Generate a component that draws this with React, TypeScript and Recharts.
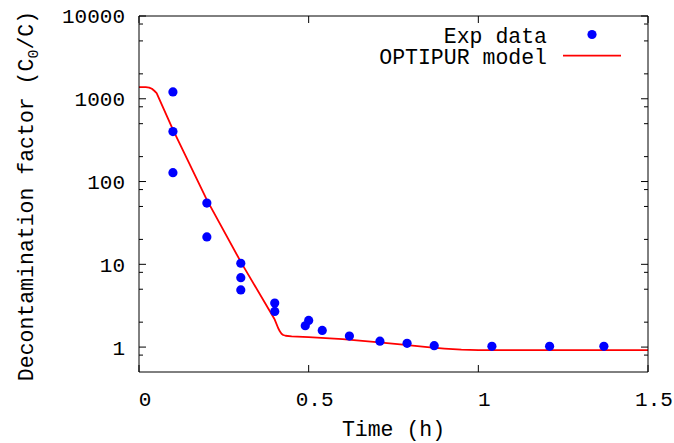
import React from 'react';
import { ComposedChart, Line, Scatter, XAxis, YAxis, Legend } from 'recharts';

// Experimental data (time in h, decontamination factor)
const expTime = [0.1, 0.1, 0.1, 0.2, 0.2, 0.3, 0.3, 0.3, 0.4, 0.4, 0.49, 0.5, 0.54, 0.62, 0.71, 0.79, 0.87, 1.04, 1.21, 1.37];
const expFactor = [1210, 401, 128, 55, 21.4, 10.3, 6.9, 4.9, 3.4, 2.7, 1.81, 2.1, 1.59, 1.36, 1.18, 1.11, 1.04, 1.02, 1.02, 1.02];

// OPTIPUR model curve
const modelTime = [0, 0.02, 0.03, 0.038, 0.045, 0.052, 0.1, 0.2, 0.3, 0.4, 0.41, 0.415, 0.42, 0.425, 0.432, 0.45, 0.5, 0.6, 0.7, 0.77, 0.85, 0.9, 0.95, 1.0, 1.5];
const modelFactor = [1380, 1380, 1365, 1320, 1250, 1170, 425, 60, 10.7, 2.15, 1.7, 1.55, 1.45, 1.4, 1.37, 1.35, 1.32, 1.25, 1.15, 1.08, 1.0, 0.96, 0.93, 0.92, 0.92];

const xTicks = [0, 0.5, 1, 1.5];
const xDomain = [0, 1.5];
const yMajorTicks = [1, 10, 100, 1000, 10000];
const yMinorTicks = [0.8, 2, 5, 8, 20, 50, 80, 200, 500, 800, 2000, 5000, 8000];
const yDomain = [0.5, 10000];
const seriesNames = ['Exp data', 'OPTIPUR model'];
const xTitle = 'Time (h)';

const expData = expTime.map((t, i) => ({ t, v: expFactor[i] }));
const modelData = modelTime.map((t, i) => ({ t, v: modelFactor[i] }));

const W = 674;
const H = 443;
const FONT = '"Liberation Mono", "DejaVu Sans Mono", monospace';
const FS = 21;
const FS_T = 21.5;
const BLUE = '#0000ff';
const RED = '#ff0000';
const THIN = 0.01;

const Blank = () => <g />;

const Dot = (props: any) => {
  const { cx, cy } = props;
  if (cx == null || cy == null) return <g />;
  return <circle cx={cx} cy={cy} r={4.6} fill={BLUE} />;
};

const XLabel = (props: any) => {
  const vb = props.viewBox || {};
  return (
    <text x={vb.x + vb.width / 2} y={vb.y + 64} textAnchor="middle" fontFamily={FONT} fontSize={FS_T} fill="#000">
      {xTitle}
    </text>
  );
};

const YLabel = (props: any) => {
  const vb = props.viewBox || {};
  const x = vb.x + 33;
  const cy = vb.y + vb.height / 2 + 2;
  return (
    <text
      x={x}
      y={cy}
      transform={`rotate(-90, ${x}, ${cy})`}
      textAnchor="middle"
      fontFamily={FONT}
      fontSize={FS_T}
      fill="#000"
    >
      Decontamination factor (C<tspan dy={5} fontSize={15}>0</tspan>
      <tspan dy={-5}>/C)</tspan>
    </text>
  );
};

const LegendContent = (props: any) => {
  const payload = [...(props.payload || [])].sort(
    (a: any, b: any) => seriesNames.indexOf(a.value) - seriesNames.indexOf(b.value)
  );
  return (
    <svg width={W} height={80} style={{ display: 'block' }}>
      {payload.map((entry: any, i: number) => {
        const y = 35 + i * 21.7;
        return (
          <g key={entry.value}>
            <text x={547} y={y} dy="0.35em" textAnchor="end" fontFamily={FONT} fontSize={FS_T} fill="#000">
              {entry.value}
            </text>
            {entry.type === 'circle' ? (
              <circle cx={592} cy={y - 0.5} r={4.6} fill={entry.color} />
            ) : (
              <line x1={563} x2={621} y1={y - 1} y2={y - 1} stroke={entry.color} strokeWidth={1.8} />
            )}
          </g>
        );
      })}
    </svg>
  );
};

const axisStroke = { stroke: '#000', strokeWidth: 1 };
const tickFont = { fill: '#000', fontSize: FS, fontFamily: FONT };
const xTickFont = { fill: '#000', fontSize: FS, fontFamily: FONT, dx: 6 };

export default function App() {
  return (
    <div style={{ position: 'absolute', left: 0, top: 0, width: W, height: H, background: '#fff' }}>
      <ComposedChart width={W} height={H} margin={{ top: 16, right: 26, bottom: 0, left: 0 }}>
        {/* main bottom axis: border + labels */}
        <XAxis
          xAxisId="x"
          type="number"
          dataKey="t"
          domain={xDomain}
          ticks={xTicks}
          interval={0}
          allowDataOverflow
          height={71}
          tickSize={0}
          tickMargin={19}
          tickLine={false}
          axisLine={axisStroke}
          tick={xTickFont}
          tickFormatter={(v: number) => String(v)}
          label={{ content: XLabel }}
        />
        {/* inward ticks bottom */}
        <XAxis
          xAxisId="xb"
          type="number"
          dataKey="t"
          domain={xDomain}
          ticks={xTicks}
          interval={0}
          allowDataOverflow
          orientation="bottom"
          mirror
          height={THIN}
          tickSize={7}
          axisLine={false}
          tickLine={axisStroke}
          tick={Blank}
        />
        {/* top border + inward ticks */}
        <XAxis
          xAxisId="xt"
          type="number"
          dataKey="t"
          domain={xDomain}
          ticks={xTicks}
          interval={0}
          allowDataOverflow
          orientation="top"
          mirror
          height={THIN}
          tickSize={7}
          axisLine={axisStroke}
          tickLine={axisStroke}
          tick={Blank}
        />
        {/* main left axis: border + labels */}
        <YAxis
          yAxisId="y"
          type="number"
          scale="log"
          domain={yDomain}
          ticks={yMajorTicks}
          interval={0}
          allowDataOverflow
          width={139}
          tickSize={0}
          tickMargin={14}
          tickLine={false}
          axisLine={axisStroke}
          tick={tickFont}
          tickFormatter={(v: number) => String(v)}
          label={{ content: YLabel }}
        />
        <YAxis
          yAxisId="ylMaj"
          type="number"
          scale="log"
          domain={yDomain}
          ticks={yMajorTicks}
          interval={0}
          allowDataOverflow
          orientation="left"
          mirror
          width={THIN}
          tickSize={7}
          axisLine={false}
          tickLine={axisStroke}
          tick={Blank}
        />
        <YAxis
          yAxisId="ylMin"
          type="number"
          scale="log"
          domain={yDomain}
          ticks={yMinorTicks}
          interval={0}
          allowDataOverflow
          orientation="left"
          mirror
          width={THIN}
          tickSize={4}
          axisLine={false}
          tickLine={axisStroke}
          tick={Blank}
        />
        <YAxis
          yAxisId="yrMaj"
          type="number"
          scale="log"
          domain={yDomain}
          ticks={yMajorTicks}
          interval={0}
          allowDataOverflow
          orientation="right"
          mirror
          width={THIN}
          tickSize={7}
          axisLine={axisStroke}
          tickLine={axisStroke}
          tick={Blank}
        />
        <YAxis
          yAxisId="yrMin"
          type="number"
          scale="log"
          domain={yDomain}
          ticks={yMinorTicks}
          interval={0}
          allowDataOverflow
          orientation="right"
          mirror
          width={THIN}
          tickSize={4}
          axisLine={false}
          tickLine={axisStroke}
          tick={Blank}
        />
        <Legend
          layout="vertical"
          align="center"
          verticalAlign="middle"
          wrapperStyle={{ top: 0, left: 0, width: W, height: 80 }}
          content={LegendContent}
        />
        <Line
          xAxisId="x"
          yAxisId="y"
          data={modelData}
          dataKey="v"
          name={seriesNames[1]}
          type="linear"
          stroke={RED}
          strokeWidth={1.8}
          strokeLinejoin="round"
          dot={false}
          activeDot={false}
          legendType="line"
          isAnimationActive={false}
        />
        <Scatter
          xAxisId="x"
          yAxisId="y"
          data={expData}
          dataKey="v"
          name={seriesNames[0]}
          fill={BLUE}
          shape={Dot}
          legendType="circle"
          isAnimationActive={false}
        />
      </ComposedChart>
    </div>
  );
}
